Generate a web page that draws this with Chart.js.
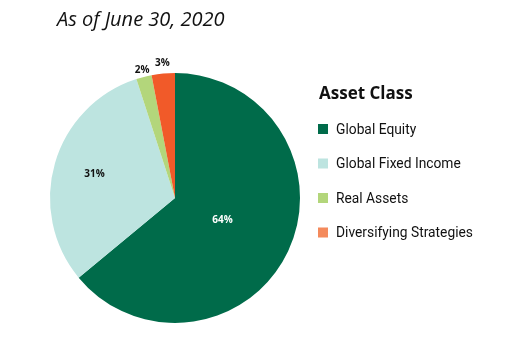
<!DOCTYPE html>
<html>
<head>
<meta charset="utf-8">
<script src="https://cdn.jsdelivr.net/npm/chart.js@4/dist/chart.umd.min.js"></script>
<style>
  html, body { margin: 0; padding: 0; background: #ffffff; }
  #wrap { position: relative; width: 530px; height: 350px; }
  #title {
    position: absolute; left: 57px; top: 5px;
    font-family: "Open Sans", sans-serif; font-style: italic;
    font-size: 20px; color: #111;
  }
</style>
</head>
<body>
<div id="wrap">
  <canvas id="c" width="530" height="350"></canvas>
  <div id="title">As of June 30, 2020</div>
</div>
<script>
// Portfolio allocation by asset class
const categories = ["Global Equity", "Global Fixed Income", "Real Assets", "Diversifying Strategies"];
const shares = [64, 31, 2, 3];
const sliceColors = ["#006b4a", "#bde4e0", "#b3d67b", "#f15a29"];
const legendColors = ["#006b4a", "#bde4e0", "#b3d67b", "#f48a5c"];
const labelColors = ["#ffffff", "#111111", "#111111", "#111111"];
const legendTitle = "Asset Class";

// distance of each percent label from the centre, as a share of the radius
const labelRadius = [0.42, 0.67, 1.06, 1.08];

const pieLabels = {
  id: "pieLabels",
  afterDatasetsDraw(chart) {
    const ctx = chart.ctx;
    const meta = chart.getDatasetMeta(0);
    ctx.save();
    ctx.font = "bold 10px 'Open Sans', sans-serif";
    ctx.textAlign = "center";
    ctx.textBaseline = "middle";
    meta.data.forEach((arc, i) => {
      const p = arc.getProps(["x", "y", "startAngle", "endAngle", "outerRadius"], true);
      const mid = (p.startAngle + p.endAngle) / 2;
      const r = p.outerRadius * labelRadius[i];
      ctx.fillStyle = labelColors[i];
      ctx.fillText(shares[i] + "%", p.x + Math.cos(mid) * r, p.y + Math.sin(mid) * r);
    });
    ctx.restore();
  }
};

const sideLegend = {
  id: "sideLegend",
  afterDraw(chart) {
    const ctx = chart.ctx;
    ctx.save();
    ctx.fillStyle = "#111";
    ctx.textBaseline = "middle";
    ctx.font = "bold 17px 'Open Sans', sans-serif";
    ctx.fillText(legendTitle, 319, 94);
    categories.forEach((name, i) => {
      const y = 130 + i * 34.5;
      ctx.fillStyle = legendColors[i];
      ctx.fillRect(318, y - 6, 10, 10);
      // slightly condensed item text
      ctx.save();
      ctx.translate(336, y);
      ctx.scale(0.92, 1);
      ctx.font = "15px Roboto, sans-serif";
      ctx.fillStyle = "#111";
      ctx.fillText(name, 0, 0);
      ctx.restore();
    });
    ctx.restore();
  }
};

new Chart(document.getElementById("c"), {
  type: "pie",
  data: {
    labels: categories,
    datasets: [{
      data: shares,
      backgroundColor: sliceColors,
      borderWidth: 0
    }]
  },
  options: {
    responsive: false,
    animation: false,
    layout: { padding: { left: 50, right: 230, top: 73, bottom: 27 } },
    plugins: { legend: { display: false }, tooltip: { enabled: false } }
  },
  plugins: [pieLabels, sideLegend]
});
</script>
</body>
</html>
